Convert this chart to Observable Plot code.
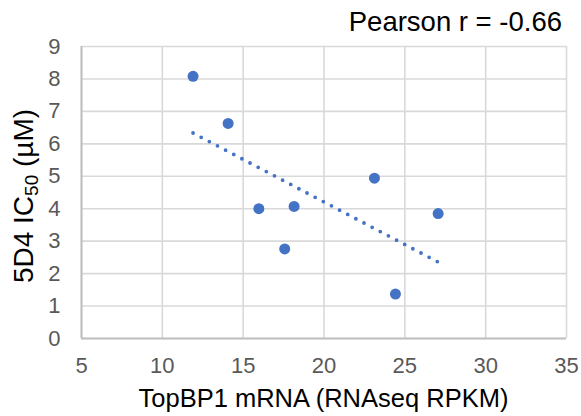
<!DOCTYPE html>
<html>
<head>
<meta charset="utf-8">
<script src="https://cdn.jsdelivr.net/npm/d3@7"></script>
<script src="https://cdn.jsdelivr.net/npm/@observablehq/plot@0.6"></script>
<style>
  html, body { margin: 0; padding: 0; background: white; }
</style>
</head>
<body>
<div id="chart"></div>
<script>
// Data
const topbp1Rpkm = [11.9, 14.07, 15.97, 17.57, 18.15, 23.12, 24.42, 27.06];
const ic50uM     = [8.08, 6.63, 4.0, 2.76, 4.07, 4.94, 1.37, 3.85];
const xTicks = [5, 10, 15, 20, 25, 30, 35];
const yTicks = [0, 1, 2, 3, 4, 5, 6, 7, 8, 9];
const xTitle = "TopBP1 mRNA (RNAseq RPKM)";
const yTitleParts = ["5D4 IC", "50", " (\u00B5M)"];
const annotation = "Pearson r = -0.66";

const data = topbp1Rpkm.map((x, i) => ({x, y: ic50uM[i]}));

const blue = "#4472C4";
const font = "'Liberation Sans', Arial, Helvetica, sans-serif";

const svg = Plot.plot({
  width: 581,
  height: 416,
  marginLeft: 81,
  marginRight: 15,
  marginTop: 46,
  marginBottom: 78,
  style: {fontFamily: font, fontSize: "22px", color: "#595959", background: "white", overflow: "visible"},
  x: {domain: [5, 35], ticks: xTicks, tickSize: 0, tickPadding: 19, label: null},
  y: {domain: [0, 9], ticks: yTicks, tickSize: 0, tickPadding: 21, label: null},
  marks: [
    Plot.ruleX(xTicks, {stroke: "#d9d9d9", strokeWidth: 1.6}),
    Plot.ruleY(yTicks, {stroke: "#d9d9d9", strokeWidth: 1.6}),
    Plot.ruleX([xTicks[0]], {stroke: "#bfbfbf", strokeWidth: 2}),
    Plot.ruleY([yTicks[0]], {stroke: "#bfbfbf", strokeWidth: 2}),
    Plot.linearRegressionY(data, {x: "x", y: "y", ci: 0, stroke: blue, strokeWidth: 3.8,
      strokeDasharray: "0 9.2", strokeLinecap: "round"}),
    Plot.dot(data, {x: "x", y: "y", r: 5.5, fill: blue, stroke: "none"})
  ]
});

document.getElementById("chart").appendChild(svg);

const s = d3.select(svg);
// annotation
s.append("text")
  .attr("x", 562).attr("y", 31)
  .attr("text-anchor", "end")
  .attr("font-family", font).attr("font-size", 27.5)
  .attr("fill", "#000")
  .text(annotation);
// x title
s.append("text")
  .attr("x", (81 + 566) / 2).attr("y", 407)
  .attr("text-anchor", "middle")
  .attr("font-family", font).attr("font-size", 25.5)
  .attr("fill", "#000")
  .text(xTitle);
// y title with subscript
const yt = s.append("text")
  .attr("transform", "translate(33,196) rotate(-90)")
  .attr("text-anchor", "middle")
  .attr("font-family", font).attr("font-size", 28)
  .attr("fill", "#000");
yt.append("tspan").text(yTitleParts[0]);
yt.append("tspan").attr("font-size", 19).attr("dy", 5).text(yTitleParts[1]);
yt.append("tspan").attr("dy", -5).text(yTitleParts[2]);
</script>
</body>
</html>
